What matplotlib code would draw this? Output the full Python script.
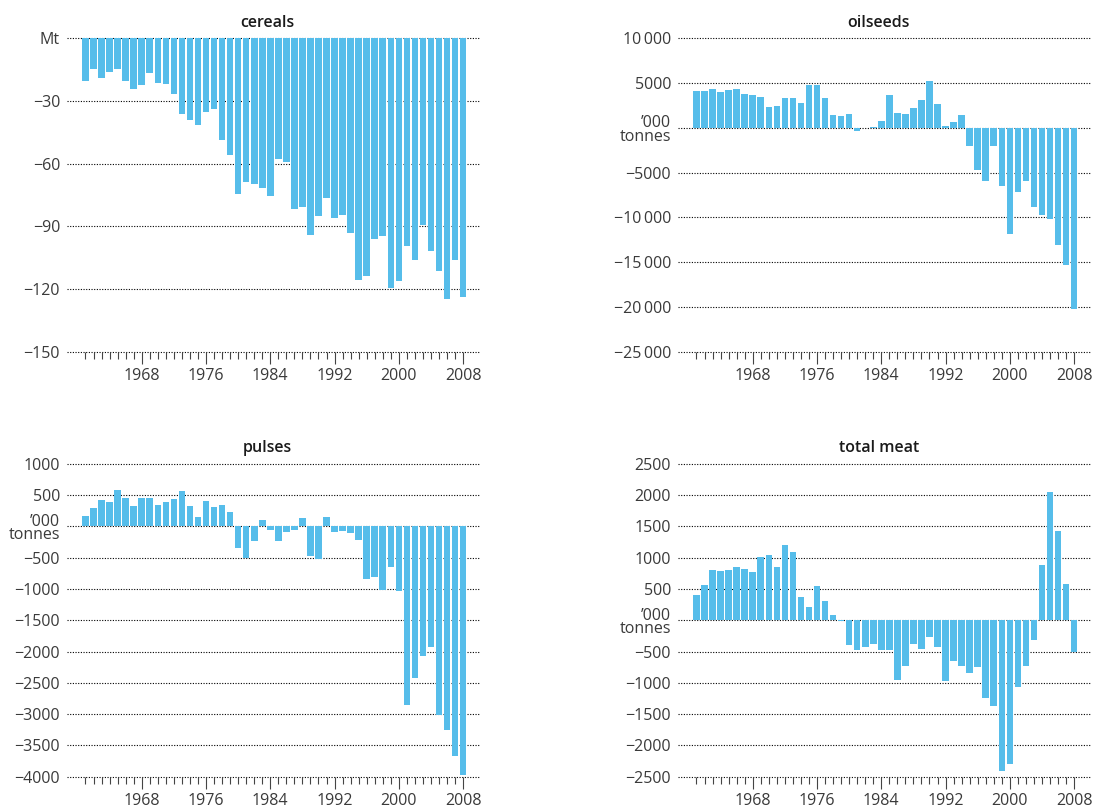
import matplotlib
matplotlib.use("Agg")
import matplotlib.pyplot as plt

# ---- data: net trade balance by year, 1961-2008 ----
years = list(range(1961, 2009))

cereals = [
    -20.3, -14.7, -19.0, -16.0, -14.7, -20.3, -24.2, -22.2, -16.5, -21.3,
    -21.8, -26.6, -36.2, -39.0, -41.4, -35.2, -33.8, -48.6, -55.8, -74.6,
    -68.8, -69.8, -71.7, -75.5, -57.9, -59.2, -81.7, -80.7, -94.1, -84.9,
    -76.4, -85.9, -84.5, -93.1, -115.6, -113.7, -96.0, -94.6, -119.6, -116.1,
    -99.4, -106.1, -89.3, -101.8, -111.3, -124.7, -106.1, -123.8,
]

oilseeds = [
    4080, 4080, 4300, 3970, 4190, 4300, 3750, 3630, 3410, 2280,
    2400, 3300, 3300, 2730, 4760, 4760, 3300, 1390, 1270, 1500,
    -370, 0, 60, 820, 3630, 1610, 1500, 2170, 3070, 5210,
    2620, 260, 600, 1390, -1990, -4680, -5920, -1990, -6500, -11820,
    -7200, -5900, -8810, -9700, -10150, -13050, -15280, -20190,
]

pulses = [
    160, 287, 415, 383, 574, 447, 319, 447, 447, 335,
    383, 431, 559, 319, 144, 399, 303, 335, 223, -351,
    -511, -239, 96, -64, -239, -96, -64, 128, -479, -527,
    144, -96, -80, -112, -223, -846, -814, -1021, -654, -1037,
    -2854, -2422, -2065, -1926, -3014, -3254, -3664, -3973,
]

total_meat = [
    410, 569, 803, 787, 803, 856, 819, 777, 1011, 1043,
    856, 1202, 1090, 378, 218, 553, 314, 90, -10, -404,
    -484, -436, -388, -484, -484, -963, -739, -388, -468, -261,
    -436, -979, -644, -739, -851, -755, -1250, -1378, -2415, -2303,
    -1074, -739, -309, 888, 2053, 1431, 585, -500,
]

major_years = [1968, 1976, 1984, 1992, 2000, 2008]

cereal_ticks = [0, -30, -60, -90, -120, -150]
cereal_labels = ["Mt", "\u221230", "\u221260", "\u221290", "\u2212120", "\u2212150"]

oilseed_ticks = [10000, 5000, 0, -5000, -10000, -15000, -20000, -25000]
oilseed_labels = ["10\u2009000", "5000", "", "\u22125000", "\u221210\u2009000",
                  "\u221215\u2009000", "\u221220\u2009000", "\u221225\u2009000"]

pulse_ticks = [1000, 500, 0, -500, -1000, -1500, -2000, -2500, -3000, -3500, -4000]
pulse_labels = ["1000", "500", "", "\u2212500", "\u22121000", "\u22121500", "\u22122000",
                "\u22122500", "\u22123000", "\u22123500", "\u22124000"]

meat_ticks = [2500, 2000, 1500, 1000, 500, 0, -500, -1000, -1500, -2000, -2500]
meat_labels = ["2500", "2000", "1500", "1000", "500", "", "\u2212500", "\u22121000",
               "\u22121500", "\u22122000", "\u22122500"]

unit_top = "\u2019000"
unit_bottom = "tonnes"

# ---- styling ----
plt.rcParams['font.family'] = ['Open Sans', 'DejaVu Sans']
BAR = "#56BDEA"
TXT = "#3a3a3a"
TITLE = "#1a1a1a"
TICK_FS = 11.5

W, H = 1094, 810
fig = plt.figure(figsize=(W / 100, H / 100), dpi=100)


def px_box(x0, y0, x1, y1):
    return [x0 / W, 1 - y1 / H, (x1 - x0) / W, (y1 - y0) / H]


panels = [
    ("cereals", cereals, cereal_ticks, cereal_labels, False, px_box(67, 38.3, 480, 351.7)),
    ("oilseeds", oilseeds, oilseed_ticks, oilseed_labels, True, px_box(678, 38.3, 1091, 351.7)),
    ("pulses", pulses, pulse_ticks, pulse_labels, True, px_box(67, 463.7, 480, 776.7)),
    ("total meat", total_meat, meat_ticks, meat_labels, True, px_box(678, 463.7, 1091, 776.7)),
]

for title, values, yt, yl, unit_label, box in panels:
    ax = fig.add_axes(box)
    ax.bar(years, values, width=0.82, color=BAR, linewidth=0, zorder=2)
    ax.set_xlim(1958.7, 2010.1)
    ax.set_ylim(min(yt), max(yt))

    for s in ax.spines.values():
        s.set_visible(False)

    # dotted reference lines at every labelled value
    for v in yt:
        ax.axhline(v, color="black", linewidth=0.8, linestyle=(0, (1, 1.4)),
                   zorder=1, clip_on=False)

    ax.set_yticks(yt)
    ax.set_yticklabels(yl)
    ax.tick_params(axis="y", length=0, pad=5, labelsize=TICK_FS, labelcolor=TXT)

    ax.set_xticks(major_years)
    ax.set_xticks([y for y in years if y not in major_years], minor=True)
    ax.set_xticklabels([str(y) for y in major_years])
    ax.tick_params(axis="x", which="major", length=8.5, width=0.8, color="#444444",
                   direction="out", pad=3.5, labelsize=TICK_FS, labelcolor=TXT)
    ax.tick_params(axis="x", which="minor", length=5, width=0.8, color="#444444",
                   direction="out")

    if unit_label:
        ax.annotate(unit_top, xy=(0, 0), xycoords=("axes fraction", "data"),
                    xytext=(-5, 0.5), textcoords="offset points",
                    ha="right", va="baseline", fontsize=TICK_FS, color=TXT)
        ax.annotate(unit_bottom, xy=(0, 0), xycoords=("axes fraction", "data"),
                    xytext=(-5, -9.5), textcoords="offset points",
                    ha="right", va="baseline", fontsize=TICK_FS, color=TXT)

    ax.annotate(title, xy=(0.486, 1), xycoords="axes fraction",
                xytext=(0, 8.3), textcoords="offset points",
                ha="center", va="baseline", fontsize=11.5, fontweight="semibold",
                color=TITLE)

fig.savefig("out.png", dpi=100)
